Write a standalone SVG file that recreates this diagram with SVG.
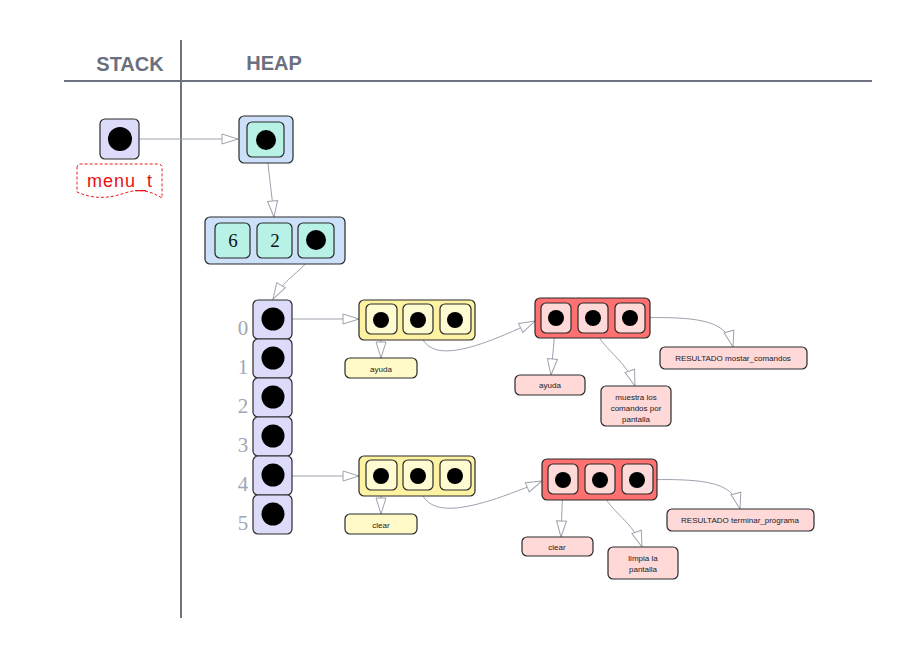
<svg xmlns="http://www.w3.org/2000/svg" width="912" height="660" viewBox="0 0 912 660">
<defs>
<marker id="arr" markerUnits="userSpaceOnUse" markerWidth="18" markerHeight="12" refX="16" refY="5" orient="auto" overflow="visible">
<path d="M0,0 L16,5 L0,10 Z" fill="#ffffff" stroke="#9ea2ae" stroke-width="1"/>
</marker>
<style>
.hdr{font-family:"Liberation Sans",Arial,sans-serif;font-weight:bold;font-size:20px;fill:#6b7080}
.ax{stroke:#6e7380;stroke-width:2;fill:none}
.con{stroke:#9ea2ae;stroke-width:1;fill:none;marker-end:url(#arr)}
.nd{stroke:#2a2a2a;stroke-width:1.2}
.lav{fill:#dcdcfa}
.blue{fill:#cce0fa}
.teal{fill:#b8f2e6}
.yel{fill:#fcf2a2}
.yelc{fill:#fffbd0}
.yell{fill:#fffac8}
.red{fill:#ff7070}
.redc{fill:#ffd8d8}
.dot{fill:#000000}
.sm{font-family:"Liberation Sans",Arial,sans-serif;font-size:8px;fill:#222222;text-anchor:middle}
.idx{font-family:"Liberation Serif","Times New Roman",serif;font-size:21px;fill:#a2a6b4;text-anchor:middle}
.num{font-family:"Liberation Serif","Times New Roman",serif;font-size:19px;fill:#111111;text-anchor:middle}
</style>
</defs>
<rect width="912" height="660" fill="#ffffff"/>

<g id="axes">
<line class="ax" x1="64" y1="81" x2="872" y2="81"/>
<line class="ax" x1="181" y1="40" x2="181" y2="618"/>
<text class="hdr" x="130" y="71" text-anchor="middle">STACK</text>
<text class="hdr" x="274" y="70" text-anchor="middle">HEAP</text>
</g>

<g id="connectors">
<path class="con" d="M120,139 L238,139"/>
<path class="con" d="M266,140 C268,170 272,195 274,217"/>
<path class="con" d="M316,240 C314,268 290,270 273,299"/>
<path class="con" d="M273,319 L359,319"/>
<path class="con" d="M381,320 L381,358"/>
<path class="con" d="M418,320 C420,360 450,362 535,321"/>
<path class="con" d="M556,318 L551,375"/>
<path class="con" d="M593,318 C595,348 624,354 635,386"/>
<path class="con" d="M630,318 C700,316 726,320 733,347"/>
<path class="con" d="M273,476 L359,476"/>
<path class="con" d="M381,476 L381,514"/>
<path class="con" d="M418,476 C420,516 450,520 542,481"/>
<path class="con" d="M563,480 L561,537"/>
<path class="con" d="M600,480 C602,510 631,516 642,547"/>
<path class="con" d="M637,480 C708,478 733,482 740,509"/>
</g>

<g id="stack-ptr">
<rect class="nd lav" x="100" y="119" width="39" height="40" rx="5"/>
<circle class="dot" cx="120" cy="139" r="12"/>
</g>

<g id="label-menu_t">
<path d="M77,168 Q77,164 81,164 L158,164 Q162,164 162,168 L162,198 C150,191 140,188 125,193 C110,198 95,200 77,192 Z" fill="#ffffff" stroke="#e82020" stroke-width="1" stroke-dasharray="3,2"/>
<text x="120" y="187" font-family="'Liberation Sans',Arial,sans-serif" font-size="18" letter-spacing="1" fill="#e81010" text-anchor="middle">menu_t</text>
</g>

<g id="heap-ptr">
<rect class="nd blue" x="239" y="116" width="54" height="47" rx="5"/>
<rect class="nd teal" x="247" y="122" width="37" height="35" rx="5"/>
<circle class="dot" cx="266" cy="140" r="10"/>
</g>

<g id="menu-struct">
<rect class="nd blue" x="205" y="217" width="140" height="47" rx="5"/>
<rect class="nd teal" x="215" y="223" width="35" height="35" rx="5"/>
<rect class="nd teal" x="257" y="223" width="35" height="35" rx="5"/>
<rect class="nd teal" x="298" y="223" width="36" height="35" rx="5"/>
<text class="num" x="233" y="247">6</text>
<text class="num" x="275" y="247">2</text>
<circle class="dot" cx="316" cy="240" r="10"/>
</g>

<g id="commands-array">
<rect class="nd lav" x="253" y="300" width="39" height="39" rx="5"/>
<rect class="nd lav" x="253" y="339" width="39" height="39" rx="5"/>
<rect class="nd lav" x="253" y="378" width="39" height="39" rx="5"/>
<rect class="nd lav" x="253" y="417" width="39" height="39" rx="5"/>
<rect class="nd lav" x="253" y="456" width="39" height="39" rx="5"/>
<rect class="nd lav" x="253" y="495" width="39" height="39" rx="5"/>
<circle class="dot" cx="273" cy="319" r="11.5"/>
<circle class="dot" cx="273" cy="358" r="11.5"/>
<circle class="dot" cx="273" cy="397" r="11.5"/>
<circle class="dot" cx="273" cy="436" r="11.5"/>
<circle class="dot" cx="273" cy="475" r="11.5"/>
<circle class="dot" cx="273" cy="514" r="11.5"/>
<text class="idx" x="243" y="335">0</text>
<text class="idx" x="243" y="374">1</text>
<text class="idx" x="243" y="413">2</text>
<text class="idx" x="243" y="452">3</text>
<text class="idx" x="243" y="491">4</text>
<text class="idx" x="243" y="530">5</text>
</g>

<g id="cmd0">
<rect class="nd yel" x="359" y="300" width="116" height="40" rx="5"/>
<rect class="nd yelc" x="366" y="304" width="31" height="30" rx="5"/>
<rect class="nd yelc" x="403" y="304" width="30" height="30" rx="5"/>
<rect class="nd yelc" x="440" y="304" width="31" height="30" rx="5"/>
<circle class="dot" cx="381" cy="320" r="8"/>
<circle class="dot" cx="418" cy="320" r="8"/>
<circle class="dot" cx="455" cy="320" r="8"/>
</g>

<g id="cmd0-name">
<rect class="nd yell" x="345" y="358" width="72" height="20" rx="5"/>
<text class="sm" x="381" y="372">ayuda</text>
</g>

<g id="cmd0-res">
<rect class="nd red" x="535" y="298" width="115" height="40" rx="5"/>
<rect class="nd redc" x="541" y="303" width="30" height="30" rx="5"/>
<rect class="nd redc" x="578" y="303" width="30" height="30" rx="5"/>
<rect class="nd redc" x="615" y="303" width="30" height="30" rx="5"/>
<circle class="dot" cx="556" cy="318" r="8"/>
<circle class="dot" cx="593" cy="318" r="8"/>
<circle class="dot" cx="630" cy="318" r="8"/>
</g>

<g id="cmd0-res-name">
<rect class="nd redc" x="515" y="375" width="70" height="20" rx="5"/>
<text class="sm" x="550" y="388">ayuda</text>
</g>

<g id="cmd0-res-desc">
<rect class="nd redc" x="601" y="386" width="70" height="40" rx="5"/>
<text class="sm" x="636" y="400">muestra los</text>
<text class="sm" x="636" y="411">comandos por</text>
<text class="sm" x="636" y="422">pantalla</text>
</g>

<g id="cmd0-res-result">
<rect class="nd redc" x="660" y="347" width="147" height="22" rx="5"/>
<text class="sm" x="733" y="361">RESULTADO mostar_comandos</text>
</g>

<g id="cmd4">
<rect class="nd yel" x="359" y="456" width="116" height="40" rx="5"/>
<rect class="nd yelc" x="366" y="460" width="31" height="30" rx="5"/>
<rect class="nd yelc" x="403" y="460" width="30" height="30" rx="5"/>
<rect class="nd yelc" x="440" y="460" width="31" height="30" rx="5"/>
<circle class="dot" cx="381" cy="476" r="8"/>
<circle class="dot" cx="418" cy="476" r="8"/>
<circle class="dot" cx="455" cy="476" r="8"/>
</g>

<g id="cmd4-name">
<rect class="nd yell" x="345" y="514" width="72" height="20" rx="5"/>
<text class="sm" x="381" y="528">clear</text>
</g>

<g id="cmd4-res">
<rect class="nd red" x="542" y="459" width="115" height="41" rx="5"/>
<rect class="nd redc" x="548" y="464" width="30" height="30" rx="5"/>
<rect class="nd redc" x="585" y="464" width="30" height="30" rx="5"/>
<rect class="nd redc" x="622" y="464" width="31" height="30" rx="5"/>
<circle class="dot" cx="563" cy="480" r="8"/>
<circle class="dot" cx="600" cy="480" r="8"/>
<circle class="dot" cx="637" cy="480" r="8"/>
</g>

<g id="cmd4-res-name">
<rect class="nd redc" x="522" y="537" width="71" height="19" rx="5"/>
<text class="sm" x="557" y="550">clear</text>
</g>

<g id="cmd4-res-desc">
<rect class="nd redc" x="608" y="547" width="70" height="32" rx="5"/>
<text class="sm" x="643" y="561">limpia la</text>
<text class="sm" x="643" y="572">pantalla</text>
</g>

<g id="cmd4-res-result">
<rect class="nd redc" x="667" y="509" width="147" height="22" rx="5"/>
<text class="sm" x="740" y="523">RESULTADO terminar_programa</text>
</g>
</svg>
